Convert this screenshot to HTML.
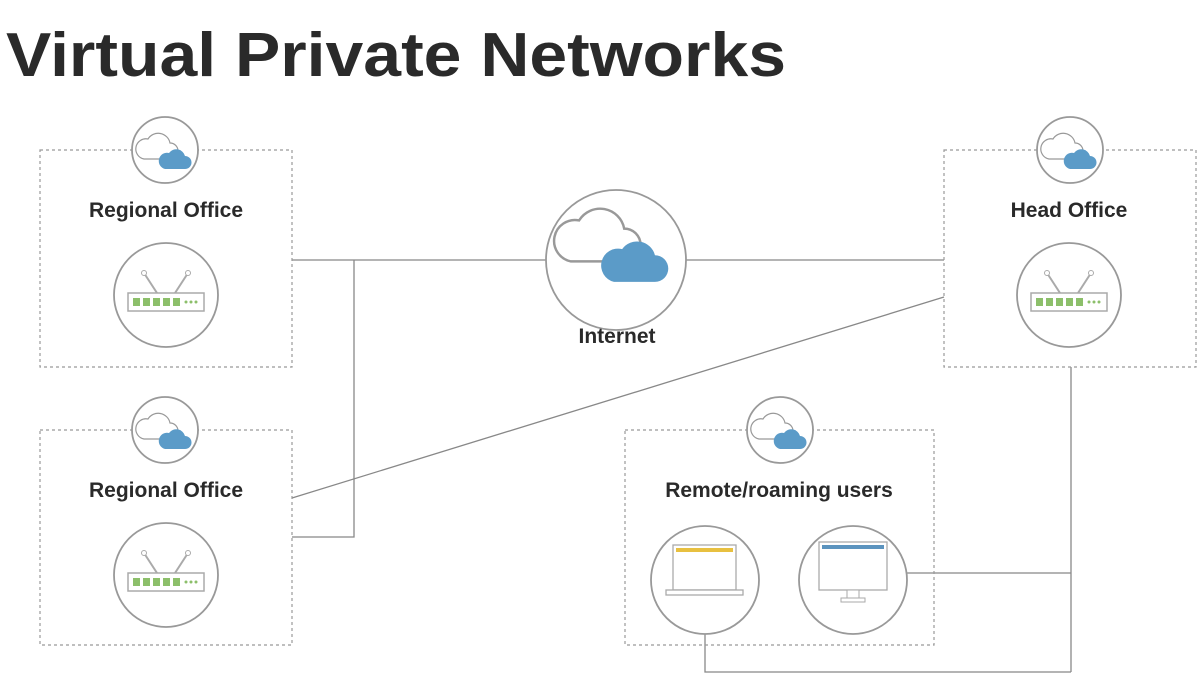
<!DOCTYPE html>
<html><head><meta charset="utf-8"><style>
body{margin:0;background:#fff;width:1201px;height:674px;overflow:hidden;font-family:"Liberation Sans",sans-serif}
</style></head><body>
<svg width="1201" height="674" viewBox="0 0 1201 674" xmlns="http://www.w3.org/2000/svg">
<defs>
<g id="cloud">
<path d="M-22,8 h26 a8,8 0 0 0 0,-16 a12,12 0 0 0 -22,-4 a9,9 0 0 0 -4,20z" fill="#fff" stroke="#999" stroke-width="1.2"/>
<path d="M-1,18 h20 a6.5,6.5 0 0 0 0,-13 a9,9 0 0 0 -16,-3 a7,7 0 0 0 -4,16z" fill="#5b9bc8"/>
</g>
<g id="router">
<line x1="-22" y1="-22" x2="-9" y2="-2" stroke="#aaa" stroke-width="2"/>
<line x1="22" y1="-22" x2="9" y2="-2" stroke="#aaa" stroke-width="2"/>
<circle cx="-22" cy="-22" r="2.5" fill="#fff" stroke="#aaa"/>
<circle cx="22" cy="-22" r="2.5" fill="#fff" stroke="#aaa"/>
<rect x="-38" y="-2" width="76" height="18" fill="#fff" stroke="#aaa" stroke-width="1.5"/>
<g fill="#8cbf6a"><rect x="-33" y="3" width="7" height="8"/><rect x="-23" y="3" width="7" height="8"/><rect x="-13" y="3" width="7" height="8"/><rect x="-3" y="3" width="7" height="8"/><rect x="7" y="3" width="7" height="8"/>
<circle cx="20" cy="7" r="1.5"/><circle cx="25" cy="7" r="1.5"/><circle cx="30" cy="7" r="1.5"/></g>
</g>
</defs>
<text x="6" y="76" font-size="62" font-weight="bold" fill="#2a2a2a" textLength="780" lengthAdjust="spacingAndGlyphs">Virtual Private Networks</text>
<g stroke="#888" stroke-width="1.3" fill="none">
<line x1="292" y1="260" x2="546" y2="260"/>
<line x1="686" y1="260" x2="944" y2="260"/>
<polyline points="354,260 354,537 292,537"/>
<line x1="292" y1="498" x2="944" y2="297"/>
<line x1="1071" y1="367" x2="1071" y2="672"/>
<line x1="907" y1="573" x2="1071" y2="573"/>
<polyline points="705,634 705,672 1071,672"/>
</g>
<g stroke="#999" stroke-width="1.2" stroke-dasharray="3,3" fill="none">
<rect x="40" y="150" width="252" height="217"/>
<rect x="40" y="430" width="252" height="215"/>
<rect x="944" y="150" width="252" height="217"/>
<rect x="625" y="430" width="309" height="215"/>
</g>
<g fill="#fff" stroke="#999" stroke-width="1.8">
<circle cx="165" cy="150" r="33"/><circle cx="165" cy="430" r="33"/>
<circle cx="1070" cy="150" r="33"/><circle cx="780" cy="430" r="33"/>
<circle cx="166" cy="295" r="52"/><circle cx="166" cy="575" r="52"/>
<circle cx="1069" cy="295" r="52"/>
<circle cx="616" cy="260" r="70"/>
<circle cx="705" cy="580" r="54"/><circle cx="853" cy="580" r="54"/>
</g>
<use href="#cloud" transform="translate(166,151)"/>
<use href="#cloud" transform="translate(166,431)"/>
<use href="#cloud" transform="translate(1071,151)"/>
<use href="#cloud" transform="translate(781,431)"/>
<use href="#cloud" transform="translate(616,245) scale(2.05)"/>
<use href="#router" transform="translate(166,295)"/>
<use href="#router" transform="translate(166,575)"/>
<use href="#router" transform="translate(1069,295)"/>
<g font-size="21" font-weight="bold" fill="#2a2a2a" text-anchor="middle">
<text x="166" y="217">Regional Office</text>
<text x="166" y="497">Regional Office</text>
<text x="1069" y="217">Head Office</text>
<text x="617" y="343">Internet</text>
<text x="779" y="497">Remote/roaming users</text>
</g>
<rect x="673" y="545" width="63" height="45" fill="#fff" stroke="#aaa" stroke-width="1.3"/>
<rect x="676" y="548" width="57" height="4" fill="#e8c040"/>
<rect x="666" y="590" width="77" height="5" fill="#fff" stroke="#aaa" stroke-width="1.3"/>
<rect x="819" y="542" width="68" height="48" fill="#fff" stroke="#aaa" stroke-width="1.3"/>
<rect x="822" y="545" width="62" height="4" fill="#5b93be"/>
<rect x="847" y="590" width="12" height="8" fill="#fff" stroke="#aaa"/>
<rect x="841" y="598" width="24" height="4" fill="#fff" stroke="#aaa"/>
</svg>
</body></html>
